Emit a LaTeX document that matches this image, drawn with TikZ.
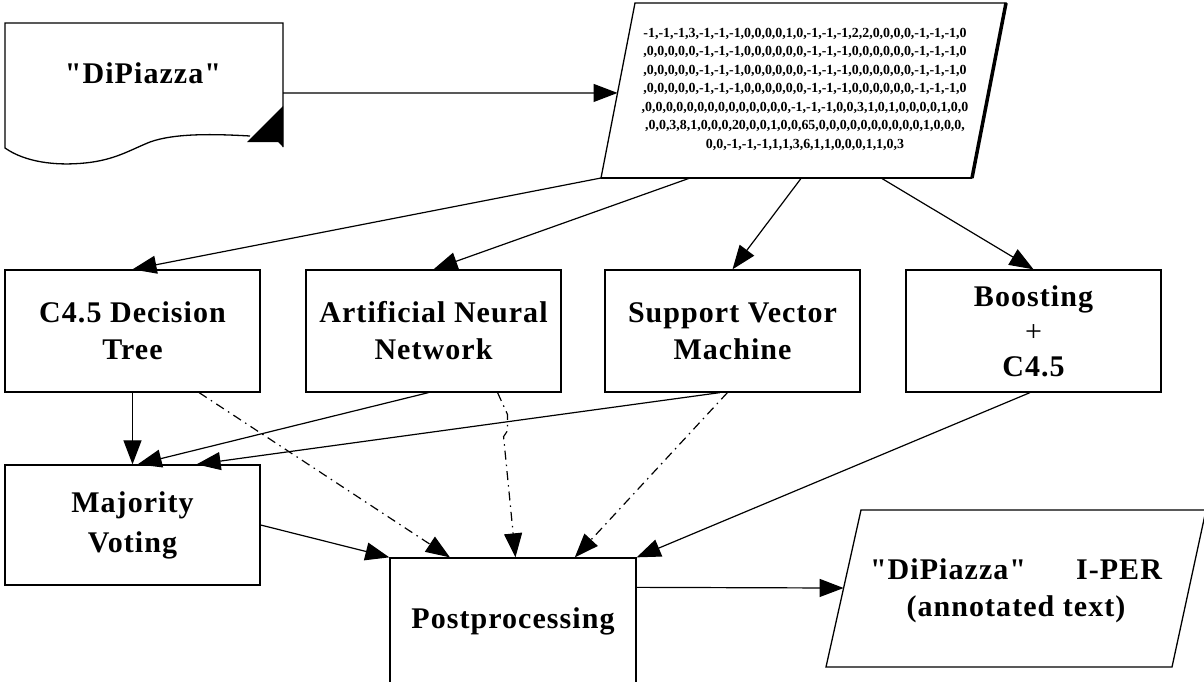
\documentclass[tikz,border=0pt]{standalone}
\usepackage{fontspec}
\setmainfont{Liberation Serif}
\newfontfamily\lblfont{Liberation Serif}[LetterSpace=3.5]
\usetikzlibrary{arrows.meta,calc}

\tikzset{
  lbl/.style={font=\lblfont\bfseries\fontsize{30}{37}\selectfont, align=center},
  box/.style={draw, line width=1.3pt, rectangle, minimum width=255pt,
              minimum height=122pt, inner sep=0pt, lbl},
  edge/.style={line width=1.3pt, line join=miter},
  arr/.style={line width=1.2pt, -{Triangle[length=24pt,width=18pt]}},
  dd/.style={arr, dash pattern=on 9pt off 5pt on 1.5pt off 5pt},
}

\begin{document}
\begin{tikzpicture}[x=1pt,y=-1pt]
\useasboundingbox (0,0) rectangle (1204,682);
\clip (0,0) rectangle (1204,682);

% source document with its wavy lower edge and folded corner
\draw[edge] (283,147) -- (283,23) -- (5,23) -- (5,148)
  .. controls (25,162) and (55,166) .. (85,163)
  .. controls (115,160) and (130,150) .. (150,142)
  .. controls (175,133) and (215,134) .. (250,136);
\fill (247,142) -- (283,106) -- (283,147) -- (278,142) -- cycle;
\node[lbl] (src) at (143,73) {"DiPiazza"};
\coordinate (srcout) at (283,93);

% feature vector (data parallelogram with heavy right and lower edges)
\coordinate (dTL) at (635,3);
\coordinate (dTR) at (1006,3);
\coordinate (dBR) at (972,178);
\coordinate (dBL) at (601,178);
\draw[edge] (dTL) -- (dTR) -- (dBR) -- (dBL) -- cycle;
\draw[line width=3.5pt] (dTR) -- (dBR);
\draw[line width=2.5pt] (dBR) -- (dBL);
\node[font=\bfseries\fontsize{13.9}{18.5}\selectfont, align=center, inner sep=0pt] (vec) at (805,89)
 {-1,-1,-1,3,-1,-1,-1,0,0,0,0,1,0,-1,-1,-1,2,2,0,0,0,0,-1,-1,-1,0\\
  ,0,0,0,0,0,-1,-1,-1,0,0,0,0,0,0,-1,-1,-1,0,0,0,0,0,0,-1,-1,-1,0\\
  ,0,0,0,0,0,-1,-1,-1,0,0,0,0,0,0,-1,-1,-1,0,0,0,0,0,0,-1,-1,-1,0\\
  ,0,0,0,0,0,-1,-1,-1,0,0,0,0,0,0,-1,-1,-1,0,0,0,0,0,0,-1,-1,-1,0\\
  ,0,0,0,0,0,0,0,0,0,0,0,0,0,0,-1,-1,-1,0,0,3,1,0,1,0,0,0,0,1,0,0\\
  ,0,0,3,8,1,0,0,0,20,0,0,1,0,0,65,0,0,0,0,0,0,0,0,0,0,1,0,0,0,\\
  0,0,-1,-1,-1,1,1,3,6,1,1,0,0,0,1,1,0,3};
\coordinate (dIn) at ($(dTL)!0.514!(dBL)$);

% classifiers
\node[box] (c45)   at (132.5,331)  {C4.5 Decision\\Tree};
\node[box] (ann)   at (433.5,331)  {Artificial Neural\\Network};
\node[box] (svm)   at (732.5,331)  {Support Vector\\Machine};
\node[box, font=\lblfont\bfseries\fontsize{30}{35}\selectfont] (boost) at (1033.5,331)
  {Boosting\\{\mdseries+}\\C4.5};

% combination and post-processing
\node[box, minimum height=120pt, font=\lblfont\bfseries\fontsize{30}{40}\selectfont] (maj) at (132.5,525)
  {Majority\\Voting};
\node[box, minimum width=246pt, minimum height=127pt] (post) at (513,621.5) {Postprocessing};

% annotated output
\coordinate (iTL) at (861,510);
\coordinate (iTR) at (1206,510);
\coordinate (iBR) at (1172,667);
\coordinate (iBL) at (826,667);
\draw[edge] (iTL) -- (iTR) -- (iBR) -- (iBL) -- cycle;
\node[lbl] (out) at (1016,591)
  {"DiPiazza"\hspace{50pt}I-PER\\(annotated text)};
\coordinate (iIn) at ($(iTL)!0.497!(iBL)$);
\coordinate (pout) at ($(post.north east)+(0,30)$);

% connectors
\draw[arr] (srcout) -- (dIn);
\draw[arr] (dBL) -- (c45.north);
\draw[arr] ($(dBL)!0.24!(dBR)$) -- (ann.north);
\draw[arr] ($(dBL)!0.54!(dBR)$) -- (svm.north);
\draw[arr] ($(dBL)!0.755!(dBR)$) -- (boost.north);

\draw[arr] (c45.south) -- (maj.north);
\draw[arr] ($(ann.south west)!0.48!(ann.south east)$) -- ($(maj.north west)!0.52!(maj.north east)$);
\draw[arr] ($(svm.south west)!0.45!(svm.south east)$) -- ($(maj.north west)!0.75!(maj.north east)$);

\draw[dd] ($(c45.south west)!0.76!(c45.south east)$) -- ($(post.north west)!0.245!(post.north east)$);
\draw[dd] ($(ann.south west)!0.75!(ann.south east)$) -- ++(10,22) -- ++(0,16) -- ++(-4,6)
  -- ($(post.north west)!0.51!(post.north east)$);
\draw[dd] ($(svm.south west)!0.48!(svm.south east)$) -- ($(post.north west)!0.75!(post.north east)$);
\draw[arr] ($(boost.south west)!0.486!(boost.south east)$) -- (post.north east);
\draw[arr] (maj.east) -- (post.north west);
\draw[arr] (pout) -- (iIn);
\end{tikzpicture}
\end{document}
